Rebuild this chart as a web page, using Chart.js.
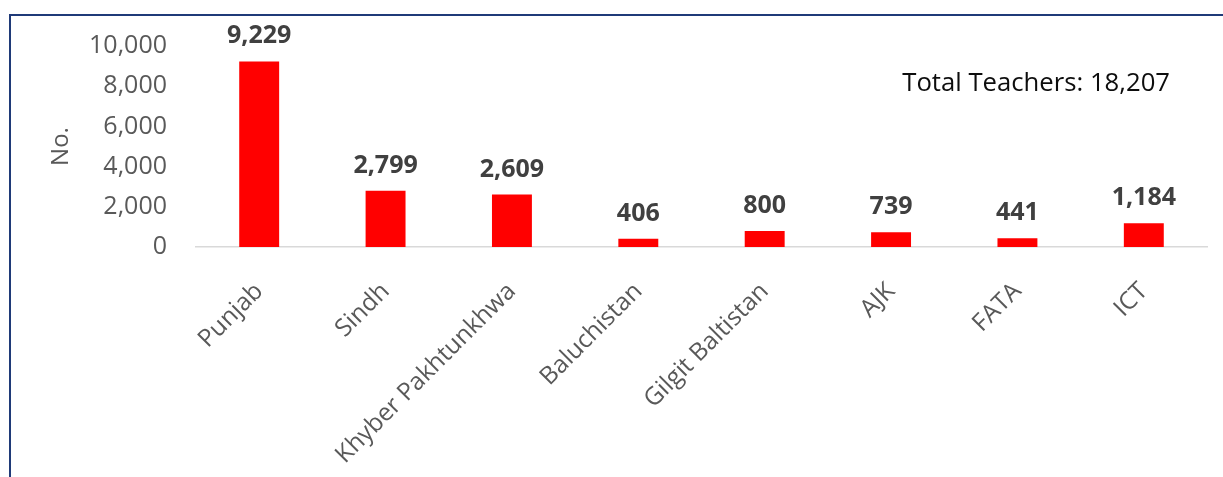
<!DOCTYPE html>
<html>
<head>
<meta charset="utf-8">
<script src="https://cdn.jsdelivr.net/npm/chart.js@4.4.1/dist/chart.umd.min.js"></script>
<style>
    html, body { margin: 0; padding: 0; background: #fff; overflow: hidden; }
    #wrap { position: relative; width: 1223px; height: 477px; }
    #frame {
        position: absolute; left: 9px; top: 14px; right: -10px; bottom: -10px;
        border-left: 2px solid #1f3a78; border-top: 2px solid #1f3a78;
        pointer-events: none;
    }
</style>
</head>
<body>
<div id="wrap">
    <canvas id="chart" width="1223" height="477"></canvas>
    <div id="frame"></div>
</div>
<script>
const regions = ['Punjab', 'Sindh', 'Khyber Pakhtunkhwa', 'Baluchistan', 'Gilgit Baltistan', 'AJK', 'FATA', 'ICT'];
const teachers = [9229, 2799, 2609, 406, 800, 739, 441, 1184];
const totalLabel = 'Total Teachers: 18,207';
const yTitle = 'No.';

const FONT = "'Open Sans', 'Noto Sans', sans-serif";
const fmt = v => v.toLocaleString('en-US');

// value labels above each bar
const barLabels = {
    id: 'barLabels',
    afterDatasetsDraw(chart) {
        const ctx = chart.ctx;
        const meta = chart.getDatasetMeta(0);
        ctx.save();
        ctx.font = 'bold 25px ' + FONT;
        ctx.fillStyle = '#404040';
        ctx.textAlign = 'center';
        ctx.textBaseline = 'alphabetic';
        meta.data.forEach((bar, i) => {
            ctx.fillText(fmt(teachers[i]), bar.x, bar.y - 18);
        });
        ctx.restore();
    }
};

// "Total Teachers" note in the top right
const totalNote = {
    id: 'totalNote',
    afterDraw(chart) {
        const ctx = chart.ctx;
        ctx.save();
        ctx.font = '25.7px ' + FONT;
        ctx.fillStyle = '#0d0d0d';
        ctx.textAlign = 'right';
        ctx.textBaseline = 'alphabetic';
        ctx.fillText(totalLabel, 1170, 91);
        ctx.restore();
    }
};

new Chart(document.getElementById('chart').getContext('2d'), {
    type: 'bar',
    data: {
        labels: regions,
        datasets: [{
            data: teachers,
            backgroundColor: '#ff0000',
            borderWidth: 0,
            categoryPercentage: 1,
            barPercentage: 0.316
        }]
    },
    options: {
        responsive: false,
        animation: false,
        layout: { padding: { left: 45, top: 46, right: 16, bottom: 0 } },
        plugins: {
            legend: { display: false },
            tooltip: { enabled: false }
        },
        scales: {
            x: {
                grid: { display: false, drawTicks: false },
                border: { display: true, color: '#d9d9d9', width: 1.5 },
                ticks: {
                    color: '#595959',
                    font: { family: FONT, size: 24.5 },
                    minRotation: 45,
                    maxRotation: 45,
                    padding: 30,
                    autoSkip: false
                },
                afterFit: s => { s.height = 230; }
            },
            y: {
                min: 0,
                max: 10000,
                grid: { display: false, drawTicks: false },
                border: { display: false },
                ticks: {
                    stepSize: 2000,
                    color: '#595959',
                    font: { family: FONT, size: 25 },
                    padding: 29,
                    callback: v => fmt(v)
                },
                title: {
                    display: true,
                    text: yTitle,
                    color: '#595959',
                    font: { family: FONT, size: 24 },
                    padding: { top: 2, bottom: 4 }
                },
                afterFit: s => { s.width = 151; }
            }
        }
    },
    plugins: [barLabels, totalNote]
});
</script>
</body>
</html>
